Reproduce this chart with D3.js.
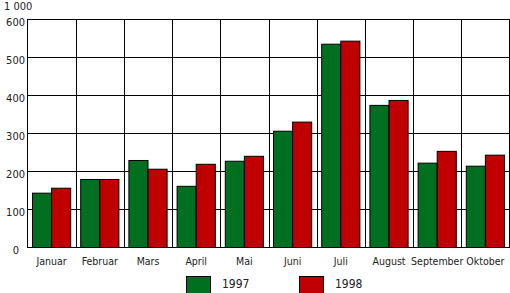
<!DOCTYPE html>
<html>
<head>
<meta charset="utf-8">
<script src="https://cdnjs.cloudflare.com/ajax/libs/d3/7.8.5/d3.min.js"></script>
<style>
  body { margin: 0; background: #fff; }
  text { font-family: "DejaVu Sans", sans-serif; font-stretch: condensed; fill: #222; }
</style>
</head>
<body>
<div class="chart-area"></div>
<script>
// ---- Data ----
const months = ["Januar", "Februar", "Mars", "April", "Mai", "Juni", "Juli", "August", "September", "Oktober"];
const series = ["1997", "1998"];
const values1997 = [143, 179, 229, 161, 227, 306, 535, 374, 222, 214];
const values1998 = [156, 179, 206, 219, 240, 330, 543, 387, 253, 243];
const yTicks = [0, 100, 200, 300, 400, 500, 600];
const unitLabel = "1 000";

const colors = { "1997": "#006f1f", "1998": "#c00000" };

// ---- Sizes ----
const svgWidth = 510, svgHeight = 293;
const plotLeft = 27.5, plotRight = 509.5, plotTop = 19.5, plotBottom = 247.5;

const svg = d3.select(".chart-area").append("svg")
    .attr("width", svgWidth)
    .attr("height", svgHeight);

const data = months.map((m, i) => ({ month: m, "1997": values1997[i], "1998": values1998[i] }));

// Scales
const x = d3.scaleBand().domain(months).range([plotLeft, plotRight]).padding(0);
const x1 = d3.scaleBand().domain(series).range([5, x.step() - 5]).padding(0);
const y = d3.scaleLinear().domain([0, 600]).range([plotBottom, plotTop]);

// Horizontal grid
svg.append("g")
    .selectAll("line")
    .data(yTicks)
    .join("line")
    .attr("x1", plotLeft)
    .attr("x2", plotRight)
    .attr("y1", d => y(d))
    .attr("y2", d => y(d))
    .attr("stroke", "#000");

// Vertical grid at category boundaries
svg.append("g")
    .selectAll("line")
    .data(months.slice(1))
    .join("line")
    .attr("x1", d => Math.round(x(d)) + 0.5)
    .attr("x2", d => Math.round(x(d)) + 0.5)
    .attr("y1", plotTop)
    .attr("y2", plotBottom)
    .attr("stroke", "#000");

// Bars
svg.append("g")
    .selectAll("g")
    .data(data)
    .join("g")
    .attr("transform", d => `translate(${x(d.month)},0)`)
    .selectAll("rect")
    .data(d => series.map(s => ({ key: s, value: d[s] })))
    .join("rect")
    .attr("x", d => x1(d.key))
    .attr("y", d => y(d.value))
    .attr("width", x1.bandwidth())
    .attr("height", d => y(0) - y(d.value))
    .attr("fill", d => colors[d.key])
    .attr("stroke", "#000")
    .attr("stroke-width", 1);

// Plot frame
svg.append("rect")
    .attr("x", plotLeft)
    .attr("y", plotTop)
    .attr("width", plotRight - plotLeft)
    .attr("height", plotBottom - plotTop)
    .attr("fill", "none")
    .attr("stroke", "#000");

// Y tick labels
svg.append("g")
    .selectAll("text")
    .data(yTicks)
    .join("text")
    .attr("x", d => d === 0 ? 19 : 25)
    .attr("y", d => y(d) + 6)
    .attr("text-anchor", "end")
    .style("font-size", "11px")
    .text(d => d);

svg.append("text")
    .attr("x", 4)
    .attr("y", 10)
    .style("font-size", "11px")
    .text(unitLabel);

// X labels
svg.append("g")
    .selectAll("text")
    .data(months)
    .join("text")
    .attr("x", d => x(d) + x.bandwidth() / 2)
    .attr("y", 264.5)
    .attr("text-anchor", "middle")
    .style("font-size", "10.5px")
    .text(d => d);

// Legend
const legendX = [186, 299];
const legend = svg.append("g")
    .selectAll("g")
    .data(series)
    .join("g")
    .attr("transform", (d, i) => `translate(${legendX[i]},276.5)`);

legend.append("rect")
    .attr("x", 0.5)
    .attr("width", 24)
    .attr("height", 17)
    .attr("fill", d => colors[d])
    .attr("stroke", "#000");

legend.append("text")
    .attr("x", 36)
    .attr("y", 11.5)
    .style("font-size", "12px")
    .text(d => d);
</script>
</body>
</html>
